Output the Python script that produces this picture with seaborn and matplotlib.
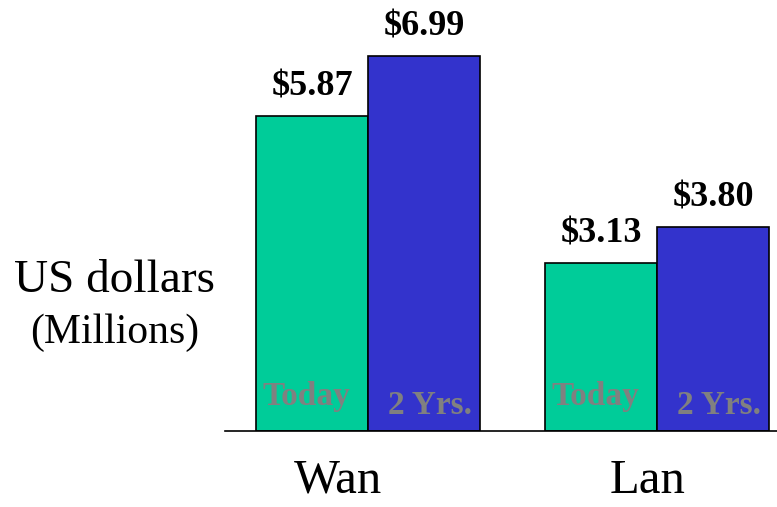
import pandas as pd
import seaborn as sns
import matplotlib.pyplot as plt
from matplotlib.transforms import ScaledTranslation

# data
networks = ['Wan', 'Lan']
periods = ['Today', '2 Yrs.']
today = [5.87, 3.13]
two_years = [6.99, 3.80]
colors = ['#00CC99', '#3333CC']

df = pd.DataFrame({
    'network': networks * 2,
    'period': [periods[0]] * 2 + [periods[1]] * 2,
    'cost': today + two_years,
})

sns.set_style('white')
plt.rcParams['font.family'] = ['Liberation Serif', 'DejaVu Serif']
plt.rcParams['text.color'] = 'black'
plt.rcParams['xtick.color'] = 'black'

fig = plt.figure(figsize=(7.77, 5.07), dpi=100)
ax = fig.add_axes([0.2896, 0.150, 0.7104, 0.804])

sns.barplot(df, x='network', y='cost', hue='period', hue_order=periods,
            order=networks, palette=colors, saturation=1, width=0.775,
            errorbar=None, edgecolor='black', linewidth=1.2, legend=False,
            ax=ax)

ax.set_ylim(0, 7.6)
ax.set_xlim(-0.495, 1.415)

# value labels on top
for container in ax.containers:
    labels = [f'${v:.2f}' for v in container.datavalues]
    ax.bar_label(container, labels=labels, padding=9, fontsize=26,
                 fontweight='bold', color='black')

# period names inside the bars
inner_offsets = {'Today': (-4, 19), '2 Yrs.': (4, 12)}
for container, name in zip(ax.containers, periods):
    for p in container.patches:
        ax.annotate(name, (p.get_x() + p.get_width() / 2, 0),
                    xytext=inner_offsets[name], textcoords='offset points',
                    ha='center', va='baseline', fontsize=24,
                    fontweight='bold', color='#808080')

for side in ['top', 'right', 'left']:
    ax.spines[side].set_visible(False)
ax.spines['bottom'].set_color('black')
ax.spines['bottom'].set_linewidth(1.2)

ax.set_yticks([])
ax.set_xlabel('')
ax.set_ylabel('')
ax.tick_params(axis='x', length=0, pad=20, labelsize=35)
for lbl, dx in zip(ax.get_xticklabels(), [-0.3, -0.1]):
    lbl.set_transform(lbl.get_transform() + ScaledTranslation(dx, 0, fig.dpi_scale_trans))

fig.text(0.148, 0.447, 'US dollars', ha='center', va='center', fontsize=34)
fig.text(0.148, 0.343, '(Millions)', ha='center', va='center', fontsize=30)

plt.savefig('out.png', dpi=100)
